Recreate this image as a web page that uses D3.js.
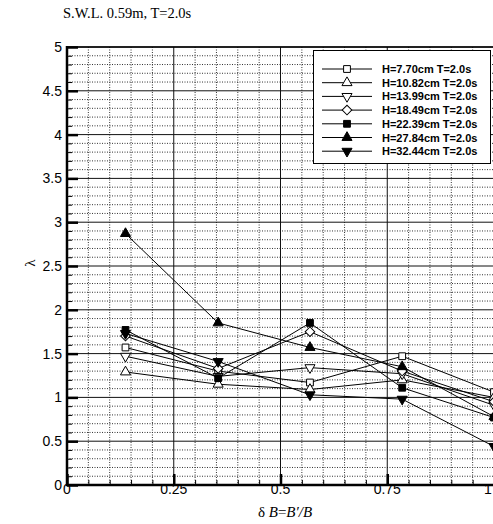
<!DOCTYPE html>
<html><head><meta charset="utf-8">
<script src="https://cdn.jsdelivr.net/npm/d3@7"></script>
<style>body{margin:0;background:#fff;overflow:hidden}svg{display:block}</style>
</head><body>
<script>
// ---- data ----
const xValues = [0.137, 0.354, 0.569, 0.785, 1.0];
const seriesNames = ["H=7.70cm T=2.0s","H=10.82cm T=2.0s","H=13.99cm T=2.0s","H=18.49cm T=2.0s","H=22.39cm T=2.0s","H=27.84cm T=2.0s","H=32.44cm T=2.0s"];
const h770  = [1.57, 1.30, 1.17, 1.47, 1.06];
const h1082 = [1.29, 1.15, 1.09, 1.20, 1.00];
const h1399 = [1.47, 1.24, 1.34, 1.27, 0.91];
const h1849 = [1.70, 1.33, 1.75, 1.30, 0.95];
const h2239 = [1.77, 1.22, 1.85, 1.11, 0.77];
const h2784 = [2.87, 1.85, 1.57, 1.35, 0.78];
const h3244 = [1.73, 1.41, 1.03, 0.98, 0.44];
const seriesValues = [h770, h1082, h1399, h1849, h2239, h2784, h3244];
const xTicks = [0, 0.25, 0.5, 0.75, 1];
const xTickLabels = ["0", "0.25", "0.5", "0.75", "1"];
const yTicks = [0, 0.5, 1, 1.5, 2, 2.5, 3, 3.5, 4, 4.5, 5];
const yTickLabels = ["0", "0.5", "1", "1.5", "2", "2.5", "3", "3.5", "4", "4.5", "5"];
const titleText = "S.W.L. 0.59m, T=2.0s";

// marker styles: [shape, filled, rotate]
const markerStyles = [
  ["square", false, 0], ["triangle", false, 0], ["triangle", false, 180],
  ["square", false, 45], ["square", true, 0], ["triangle", true, 0], ["triangle", true, 180]
];

const W = 493, H = 524;
const L = 67, R = 494, T = 47, B = 485;
const svg = d3.select("body").append("svg").attr("width", W).attr("height", H);
const x = d3.scaleLinear().domain([0, 1]).range([L, R]);
const y = d3.scaleLinear().domain([0, 5]).range([B, T]);

// title
svg.append("text").attr("x", 63).attr("y", 18)
  .style("font-family", "'Liberation Serif','Times New Roman',serif").style("font-size", "14.5px")
  .text(titleText);

const g = svg.append("g");
// minor grid (dotted)
const xMinor = d3.range(0, 1.0001, 0.05).filter(v => Math.abs(v * 4 - Math.round(v * 4)) > 1e-6);
const yMinor = d3.range(0, 5.0001, 0.1).filter(v => Math.abs(v * 2 - Math.round(v * 2)) > 1e-6);
g.selectAll(".vminor").data(xMinor).enter().append("line")
  .attr("x1", d => x(d)).attr("x2", d => x(d)).attr("y1", T).attr("y2", B)
  .attr("stroke", "#333").attr("stroke-width", 1).attr("stroke-dasharray", "1,1.5");
g.selectAll(".hminor").data(yMinor).enter().append("line")
  .attr("y1", d => y(d)).attr("y2", d => y(d)).attr("x1", L).attr("x2", R)
  .attr("stroke", "#333").attr("stroke-width", 1).attr("stroke-dasharray", "1,1.5");
// major grid (solid)
g.selectAll(".vmajor").data(xTicks.slice(1)).enter().append("line")
  .attr("x1", d => x(d)).attr("x2", d => x(d)).attr("y1", T).attr("y2", B)
  .attr("stroke", "#111").attr("stroke-width", 1);
g.selectAll(".hmajor").data(yTicks.slice(1)).enter().append("line")
  .attr("y1", d => y(d)).attr("y2", d => y(d)).attr("x1", L).attr("x2", R)
  .attr("stroke", "#111").attr("stroke-width", 1);

// axes with d3 axis (inward ticks)
const yAxis = svg.append("g").attr("transform", `translate(${L},0)`)
  .call(d3.axisRight(y).tickValues(yTicks).tickSize(11).tickFormat(() => ""));
yAxis.select(".domain").remove();
yAxis.selectAll(".tick line").attr("stroke", "#000").attr("stroke-width", 2.5);
const yAxisMinor = svg.append("g").attr("transform", `translate(${L},0)`)
  .call(d3.axisRight(y).tickValues(yMinor).tickSize(5).tickFormat(() => ""));
yAxisMinor.select(".domain").remove();
yAxisMinor.selectAll(".tick line").attr("stroke", "#000").attr("stroke-width", 1);

const xAxis = svg.append("g").attr("transform", `translate(0,${B})`)
  .call(d3.axisTop(x).tickValues(xTicks).tickSize(11).tickFormat(() => ""));
xAxis.select(".domain").remove();
xAxis.selectAll(".tick line").attr("stroke", "#000").attr("stroke-width", 2.5);
const xAxisMinor = svg.append("g").attr("transform", `translate(0,${B})`)
  .call(d3.axisTop(x).tickValues(xMinor).tickSize(5).tickFormat(() => ""));
xAxisMinor.select(".domain").remove();
xAxisMinor.selectAll(".tick line").attr("stroke", "#000").attr("stroke-width", 1);

// frame
svg.append("line").attr("x1", L).attr("x2", R).attr("y1", T).attr("y2", T).attr("stroke", "#000").attr("stroke-width", 1.5);
svg.append("line").attr("x1", L).attr("x2", L).attr("y1", T - 1).attr("y2", B + 1).attr("stroke", "#000").attr("stroke-width", 2.5);
svg.append("line").attr("x1", L - 1).attr("x2", R).attr("y1", B).attr("y2", B).attr("stroke", "#000").attr("stroke-width", 2.5);

// tick labels
const sans = "'Liberation Sans',Arial,Helvetica,sans-serif";
svg.selectAll(".ylab").data(yTicks).enter().append("text")
  .attr("x", 62).attr("y", d => y(d) + 5).attr("text-anchor", "end")
  .style("font-family", sans).style("font-size", "14px").text((d, i) => yTickLabels[i]);
svg.selectAll(".xlab").data(xTicks).enter().append("text")
  .attr("x", d => Math.min(x(d), 488)).attr("y", 494).attr("text-anchor", "middle")
  .style("font-family", sans).style("font-size", "14px").text((d, i) => xTickLabels[i]);

// axis titles
const serif = "'Liberation Serif','Times New Roman',serif";
const xt = svg.append("text").attr("x", 285).attr("y", 517).attr("text-anchor", "middle")
  .style("font-family", serif).style("font-size", "15px");
xt.append("tspan").text("δ ");
xt.append("tspan").style("font-style", "italic").text("B");
xt.append("tspan").text("=");
xt.append("tspan").style("font-style", "italic").text("B′/B");
svg.append("text").attr("transform", "translate(35,263) rotate(-90)").attr("text-anchor", "middle")
  .style("font-family", serif).style("font-size", "15px").text("λ");

// series
const sym = (shape) => shape === "square" ? d3.symbolSquare : d3.symbolTriangle;
const symSize = (shape) => shape === "square" ? 46 : 44;
const line = d3.line().x((d, i) => x(xValues[i])).y(d => y(d));
seriesValues.forEach((vals, si) => {
  svg.append("path").attr("d", line(vals)).attr("fill", "none").attr("stroke", "#000").attr("stroke-width", 1);
});
seriesValues.forEach((vals, si) => {
  const [shape, filled, rot] = markerStyles[si];
  svg.selectAll(".m" + si).data(vals).enter().append("path")
    .attr("d", d3.symbol().type(sym(shape)).size(symSize(shape))())
    .attr("transform", (d, i) => `translate(${x(xValues[i])},${y(d)}) rotate(${rot})`)
    .attr("fill", filled ? "#000" : "#fff").attr("stroke", "#000").attr("stroke-width", 1);
});

// legend
const lg = svg.append("g");
lg.append("rect").attr("x", 313.5).attr("y", 50.5).attr("width", 177).attr("height", 113)
  .attr("fill", "#fff").attr("stroke", "#000").attr("stroke-width", 1);
seriesNames.forEach((name, si) => {
  const [shape, filled, rot] = markerStyles[si];
  const ly = 69 + si * 13.7;
  lg.append("line").attr("x1", 322).attr("x2", 372).attr("y1", ly).attr("y2", ly).attr("stroke", "#000").attr("stroke-width", 1);
  lg.append("path").attr("d", d3.symbol().type(sym(shape)).size(symSize(shape))())
    .attr("transform", `translate(347,${ly}) rotate(${rot})`)
    .attr("fill", filled ? "#000" : "#fff").attr("stroke", "#000").attr("stroke-width", 1);
  lg.append("text").attr("x", 382).attr("y", ly + 4).style("font-family", sans)
    .style("font-size", "11px").style("font-weight", "bold").text(name);
});
</script>
</body></html>
